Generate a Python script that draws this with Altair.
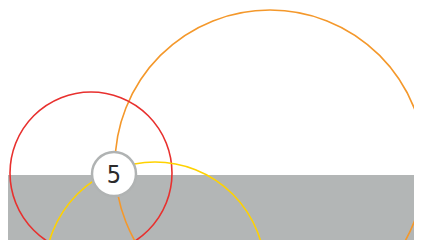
import altair as alt
import pandas as pd

# Ring data (reference pixel coordinates as data units)
ring_names = ["orange", "red", "yellow"]
ring_cx = [270, 91, 155]
ring_cy = [165, 173, 272]
ring_r = [155, 81, 110]
ring_colors = ["#F4982B", "#E8302E", "#FFD200"]

# Ground band
band_x = [0]
band_x2 = [430]
band_y = [175]
band_y2 = [260]

# Badge
badge_x = [114]
badge_y = [174]
badge_r = [22]
badge_label = ["5"]

rings = pd.DataFrame({"name": ring_names, "cx": ring_cx, "cy": ring_cy, "r": ring_r})
band = pd.DataFrame({"x": band_x, "x2": band_x2, "y": band_y, "y2": band_y2})
badge = pd.DataFrame({"cx": badge_x, "cy": badge_y, "r": badge_r, "label": badge_label})

W, H = 406, 232
xs = alt.Scale(domain=[8, 8 + W], range=[0, W], zero=False, nice=False)
ys = alt.Scale(domain=[8, 8 + H], range=[0, H], zero=False, nice=False)

bg = alt.Chart(band).mark_rect(color="#B3B6B6", clip=True).encode(
    x=alt.X("x:Q", scale=xs, axis=None),
    x2="x2:Q",
    y=alt.Y("y:Q", scale=ys, axis=None),
    y2="y2:Q",
)

circles = alt.Chart(rings).transform_calculate(
    size="4*datum.r*datum.r"
).mark_point(shape="circle", filled=False, strokeWidth=1.6, opacity=1, clip=True).encode(
    x=alt.X("cx:Q", scale=xs, axis=None),
    y=alt.Y("cy:Q", scale=ys, axis=None),
    size=alt.Size("size:Q", scale=None, legend=None),
    color=alt.Color("name:N", scale=alt.Scale(domain=ring_names, range=ring_colors), legend=None),
)

badge_c = alt.Chart(badge).transform_calculate(
    size="4*datum.r*datum.r"
).mark_point(shape="circle", filled=True, fill="white", stroke="#B0B3B3", strokeWidth=2.5, opacity=1, fillOpacity=1, clip=False).encode(
    x=alt.X("cx:Q", scale=xs, axis=None),
    y=alt.Y("cy:Q", scale=ys, axis=None),
    size=alt.Size("size:Q", scale=None, legend=None),
)

badge_t = alt.Chart(badge).mark_text(
    font="DejaVu Sans Condensed, Roboto, sans-serif", fontWeight=300,
    fontSize=25, color="#2B2B2B", align="center", baseline="middle", dy=1
).encode(
    x=alt.X("cx:Q", scale=xs, axis=None),
    y=alt.Y("cy:Q", scale=ys, axis=None),
    text="label:N",
)

chart = alt.layer(bg, circles, badge_c, badge_t).properties(
    width=W, height=H, padding=0, autosize=alt.AutoSizeParams(type="none")
).configure(background="white").configure_view(stroke=None, strokeWidth=0)

chart.save("out.html", embed_options={"renderer": "svg", "actions": False})
